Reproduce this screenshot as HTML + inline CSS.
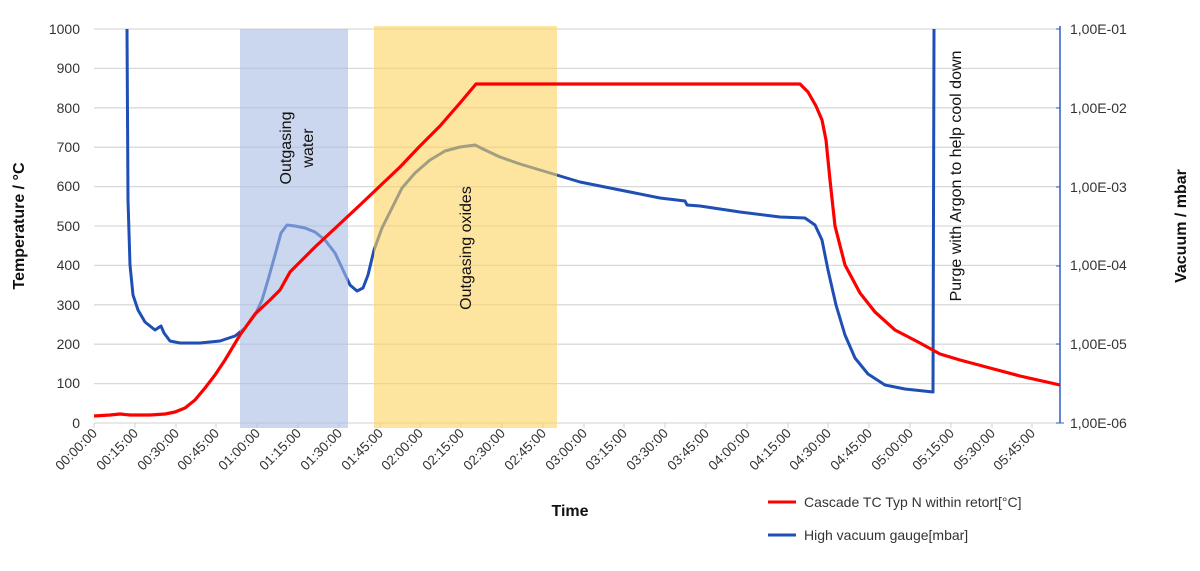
<!DOCTYPE html><html><head><style>body{margin:0;background:#fff}svg{font-family:"Liberation Sans",sans-serif}</style></head><body>
<svg width="1200" height="566" viewBox="0 0 1200 566" xmlns="http://www.w3.org/2000/svg">
<g stroke="#d9d9d9" stroke-width="1.3">
<line x1="94" x2="1060" y1="29" y2="29"/><line x1="94" x2="1060" y1="68.4" y2="68.4"/><line x1="94" x2="1060" y1="107.8" y2="107.8"/><line x1="94" x2="1060" y1="147.2" y2="147.2"/><line x1="94" x2="1060" y1="186.6" y2="186.6"/><line x1="94" x2="1060" y1="226" y2="226"/><line x1="94" x2="1060" y1="265.4" y2="265.4"/><line x1="94" x2="1060" y1="304.8" y2="304.8"/><line x1="94" x2="1060" y1="344.2" y2="344.2"/><line x1="94" x2="1060" y1="383.6" y2="383.6"/><line x1="94" x2="1060" y1="423" y2="423"/>
</g>
<g stroke="#d0d0d0" stroke-width="1">
<line x1="94" x2="94" y1="423" y2="428"/><line x1="135" x2="135" y1="423" y2="428"/><line x1="176" x2="176" y1="423" y2="428"/><line x1="216" x2="216" y1="423" y2="428"/><line x1="257" x2="257" y1="423" y2="428"/><line x1="298" x2="298" y1="423" y2="428"/><line x1="339" x2="339" y1="423" y2="428"/><line x1="380" x2="380" y1="423" y2="428"/><line x1="420" x2="420" y1="423" y2="428"/><line x1="461" x2="461" y1="423" y2="428"/><line x1="502" x2="502" y1="423" y2="428"/><line x1="543" x2="543" y1="423" y2="428"/><line x1="584" x2="584" y1="423" y2="428"/><line x1="624" x2="624" y1="423" y2="428"/><line x1="665" x2="665" y1="423" y2="428"/><line x1="706" x2="706" y1="423" y2="428"/><line x1="747" x2="747" y1="423" y2="428"/><line x1="788" x2="788" y1="423" y2="428"/><line x1="828" x2="828" y1="423" y2="428"/><line x1="869" x2="869" y1="423" y2="428"/><line x1="910" x2="910" y1="423" y2="428"/><line x1="951" x2="951" y1="423" y2="428"/><line x1="992" x2="992" y1="423" y2="428"/><line x1="1032" x2="1032" y1="423" y2="428"/>
</g>
<g font-size="14" fill="#333" text-anchor="end">
<text x="80" y="34">1000</text><text x="80" y="73">900</text><text x="80" y="113">800</text><text x="80" y="152">700</text><text x="80" y="191">600</text><text x="80" y="231">500</text><text x="80" y="270">400</text><text x="80" y="310">300</text><text x="80" y="349">200</text><text x="80" y="388">100</text><text x="80" y="428">0</text>
</g>
<g font-size="14" fill="#333">
<text x="1070" y="34">1,00E-01</text><text x="1070" y="113">1,00E-02</text><text x="1070" y="192">1,00E-03</text><text x="1070" y="270">1,00E-04</text><text x="1070" y="349">1,00E-05</text><text x="1070" y="428">1,00E-06</text>
</g>
<line x1="1060" y1="26" x2="1060" y2="423" stroke="#2f5fc4" stroke-width="1.5"/>
<g stroke="#2f5fc4" stroke-width="1"><line x1="1056" x2="1060" y1="29" y2="29"/><line x1="1056" x2="1060" y1="108" y2="108"/><line x1="1056" x2="1060" y1="187" y2="187"/><line x1="1056" x2="1060" y1="266" y2="266"/><line x1="1056" x2="1060" y1="344" y2="344"/><line x1="1056" x2="1064" y1="423" y2="423"/></g>
<path d="M127,29 L128,200 L130,265 L133,295 L138,310 L145,322 L155,330 L158,328 L161,326 L164,333 L170,341 L180,343 L200,343 L220,341 L235,336 L245,328 L255,315 L262,300 L268,280 L275,255 L281,233 L287,225 L295,226 L305,228 L315,232 L325,240 L335,253 L343,270 L350,285 L357,291 L363,288 L368,275 L374,250 L382,228 L392,208 L402,188 L415,173 L430,160 L445,151 L460,147 L475,145 L485,150 L500,157 L520,164 L550,173 L580,182 L620,190 L660,198 L685,201 L687,205 L700,206 L740,212 L780,217 L805,218 L815,225 L822,240 L828,270 L836,305 L845,335 L855,358 L868,374 L885,385 L905,389 L933,392 L934,29" fill="none" stroke="#1f4fb4" stroke-width="3" stroke-linejoin="round"/>
<rect x="240" y="29" width="108" height="399" fill="#a8bde3" opacity="0.6"/>
<rect x="374" y="26" width="183" height="402" fill="#fdd35f" opacity="0.6"/>
<path d="M94,416 L110,415 L120,414 L130,415 L150,415 L165,414 L175,412 L185,408 L195,400 L205,388 L215,375 L225,360 L240,335 L255,314 L270,300 L280,290 L290,272 L300,262 L315,247 L330,233 L345,219 L360,205 L380,186 L400,167 L420,146 L440,126 L460,103 L476,84 L600,84 L700,84 L800,84 L808,92 L816,106 L822,120 L826,140 L830,180 L835,226 L845,265 L860,293 L875,312 L895,330 L920,343 L940,354 L960,360 L990,368 L1020,376 L1060,385" fill="none" stroke="#f00" stroke-width="3.2" stroke-linejoin="round"/>
<g fill="#111" font-size="16">
<text transform="translate(291,148) rotate(-90)" text-anchor="middle">Outgasing</text>
<text transform="translate(313,148) rotate(-90)" text-anchor="middle">water</text>
<text transform="translate(471,248) rotate(-90)" text-anchor="middle">Outgasing oxides</text>
<text transform="translate(961,176) rotate(-90)" text-anchor="middle">Purge with Argon to help cool down</text>
</g>
<text transform="translate(24,226) rotate(-90)" text-anchor="middle" font-size="16" font-weight="bold" fill="#111">Temperature / °C</text>
<text transform="translate(1186,226) rotate(-90)" text-anchor="middle" font-size="16" font-weight="bold" fill="#111">Vacuum / mbar</text>
<text x="570" y="516" text-anchor="middle" font-size="16" font-weight="bold" fill="#111">Time</text>
<line x1="768" x2="796" y1="502" y2="502" stroke="#f00" stroke-width="3"/>
<text x="804" y="507" font-size="14" fill="#333">Cascade TC Typ N within retort[°C]</text>
<line x1="768" x2="796" y1="535" y2="535" stroke="#1f4fb4" stroke-width="3"/>
<text x="804" y="540" font-size="14" fill="#333">High vacuum gauge[mbar]</text>
<g font-size="13.5" fill="#333" text-anchor="end">
<text transform="translate(98,434) rotate(-45)">00:00:00</text>
<text transform="translate(139,434) rotate(-45)">00:15:00</text>
<text transform="translate(180,434) rotate(-45)">00:30:00</text>
<text transform="translate(220,434) rotate(-45)">00:45:00</text>
<text transform="translate(261,434) rotate(-45)">01:00:00</text>
<text transform="translate(302,434) rotate(-45)">01:15:00</text>
<text transform="translate(343,434) rotate(-45)">01:30:00</text>
<text transform="translate(384,434) rotate(-45)">01:45:00</text>
<text transform="translate(424,434) rotate(-45)">02:00:00</text>
<text transform="translate(465,434) rotate(-45)">02:15:00</text>
<text transform="translate(506,434) rotate(-45)">02:30:00</text>
<text transform="translate(547,434) rotate(-45)">02:45:00</text>
<text transform="translate(588,434) rotate(-45)">03:00:00</text>
<text transform="translate(628,434) rotate(-45)">03:15:00</text>
<text transform="translate(669,434) rotate(-45)">03:30:00</text>
<text transform="translate(710,434) rotate(-45)">03:45:00</text>
<text transform="translate(751,434) rotate(-45)">04:00:00</text>
<text transform="translate(792,434) rotate(-45)">04:15:00</text>
<text transform="translate(832,434) rotate(-45)">04:30:00</text>
<text transform="translate(873,434) rotate(-45)">04:45:00</text>
<text transform="translate(914,434) rotate(-45)">05:00:00</text>
<text transform="translate(955,434) rotate(-45)">05:15:00</text>
<text transform="translate(996,434) rotate(-45)">05:30:00</text>
<text transform="translate(1036,434) rotate(-45)">05:45:00</text>
</g>
</svg></body></html>
